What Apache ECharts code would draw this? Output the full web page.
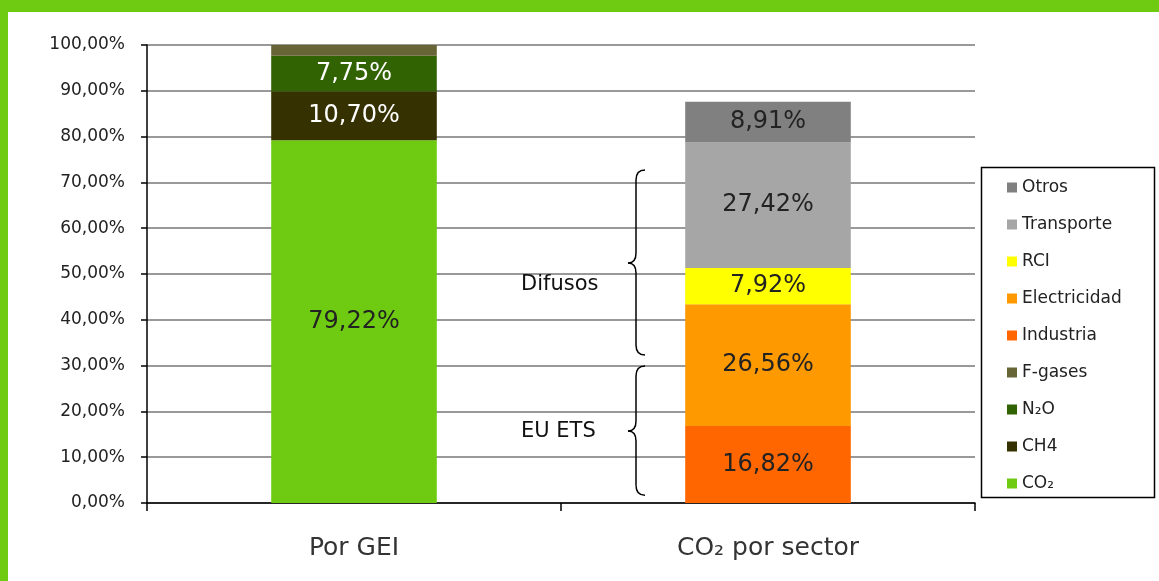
<!DOCTYPE html>
<html>
<head>
<meta charset="utf-8">
<script src="https://cdn.jsdelivr.net/npm/echarts@6/dist/echarts.min.js"></script>
<style>
  html, body { margin: 0; padding: 0; background: #fff; }
  #chart { width: 1159px; height: 581px; }
</style>
</head>
<body>
<div id="chart"></div>
<script>
// categorias del eje x
var categories = ['Por GEI', 'CO₂ por sector'];

// barra 1: por gas (GEI)
var gasNames = ['CO₂', 'CH4', 'N₂O', 'F-gases'];
var gasValues = [79.22, 10.70, 7.75, 2.33];
var gasColors = ['#6ecb12', '#363100', '#316303', '#676536'];
var gasLabelColors = ['#222', '#fff', '#fff', null];

// barra 2: CO2 por sector
var sectorNames = ['Industria', 'Electricidad', 'RCI', 'Transporte', 'Otros'];
var sectorValues = [16.82, 26.56, 7.92, 27.42, 8.91];
var sectorColors = ['#ff6600', '#ff9900', '#ffff00', '#a6a6a6', '#808080'];

var legendOrder = ['Otros', 'Transporte', 'RCI', 'Electricidad', 'Industria', 'F-gases', 'N₂O', 'CH4', 'CO₂'];

// llaves (rango en % del eje y)
var braces = [
    { text: 'Difusos', from: 32.3, to: 72.7, tip: 52.4 },
    { text: 'EU ETS', from: 1.7, to: 29.9, tip: 15.7 }
];

var fontFam = '"DejaVu Sans", sans-serif';

function fmt(v) {
    return v.toFixed(2).replace('.', ',') + '%';
}

var series = [];
for (var i in gasNames) {
    series.push({
        name: gasNames[i],
        type: 'bar',
        stack: 'total',
        barWidth: '40%',
        itemStyle: { color: gasColors[i] },
        label: {
            show: gasLabelColors[i] !== null,
            position: 'inside',
            color: gasLabelColors[i] || '#000',
            fontSize: 24,
            fontFamily: fontFam,
            formatter: function (p) { return fmt(p.value); }
        },
        data: [gasValues[i], '-']
    });
}
for (var j in sectorNames) {
    series.push({
        name: sectorNames[j],
        type: 'bar',
        stack: 'total',
        barWidth: '40%',
        itemStyle: { color: sectorColors[j] },
        label: {
            show: true,
            position: 'inside',
            color: '#222',
            fontSize: 24,
            fontFamily: fontFam,
            formatter: function (p) { return fmt(p.value); }
        },
        data: ['-', sectorValues[j]]
    });
}

var mychart = echarts.init(document.getElementById('chart'));
var option = {
    backgroundColor: '#fff',
    animation: false,
    grid: { left: 147, right: 184, top: 45, bottom: 78 },
    legend: {
        data: legendOrder,
        orient: 'vertical',
        left: 1002,
        top: 174,
        itemWidth: 10,
        itemHeight: 10,
        itemGap: 20,
        icon: 'rect',
        textStyle: { fontSize: 17, lineHeight: 16, color: '#222', fontFamily: fontFam }
    },
    xAxis: {
        type: 'category',
        data: categories,
        axisLine: { lineStyle: { color: '#000', width: 1.5 } },
        axisTick: { show: true, length: 8, lineStyle: { color: '#000', width: 1.5 } },
        axisLabel: { fontSize: 25, color: '#333', margin: 33, fontFamily: fontFam }
    },
    yAxis: {
        type: 'value',
        min: 0,
        max: 100,
        interval: 10,
        axisLine: { show: true, lineStyle: { color: '#000', width: 1.5 } },
        axisTick: { show: true, length: 6, lineStyle: { color: '#000', width: 1.5 } },
        axisLabel: { fontSize: 17, color: '#222', margin: 22, fontFamily: fontFam, formatter: fmt },
        splitLine: { lineStyle: { color: '#999', width: 2 } }
    },
    series: series
};
mychart.setOption(option);

// marco verde, caja de leyenda y llaves
var lineSt = { fill: 'none', stroke: '#000', lineWidth: 1.5 };
function braceParts(x, yTop, yBot, yTip) {
    var w = 9, r = 10;
    var xi = x - w;
    return [
        { type: 'bezierCurve', shape: { x1: x, y1: yTop, cpx1: xi, cpy1: yTop, x2: xi, y2: yTop + r }, style: lineSt },
        { type: 'line', shape: { x1: xi, y1: yTop + r, x2: xi, y2: yTip - r }, style: lineSt },
        { type: 'bezierCurve', shape: { x1: xi, y1: yTip - r, cpx1: xi, cpy1: yTip, x2: xi - 8, y2: yTip }, style: lineSt },
        { type: 'bezierCurve', shape: { x1: xi - 8, y1: yTip, cpx1: xi, cpy1: yTip, x2: xi, y2: yTip + r }, style: lineSt },
        { type: 'line', shape: { x1: xi, y1: yTip + r, x2: xi, y2: yBot - r }, style: lineSt },
        { type: 'bezierCurve', shape: { x1: xi, y1: yBot - r, cpx1: xi, cpy1: yBot, x2: x, y2: yBot }, style: lineSt }
    ];
}

var gfx = [
    { type: 'rect', shape: { x: 0, y: 0, width: 1159, height: 12 }, style: { fill: '#6ecb12' } },
    { type: 'rect', shape: { x: 0, y: 0, width: 8, height: 581 }, style: { fill: '#6ecb12' } },
    { type: 'rect', shape: { x: 981.5, y: 167.5, width: 173, height: 330 }, style: { fill: 'none', stroke: '#000', lineWidth: 1.5 } }
];
var bx = mychart.convertToPixel({ xAxisIndex: 0 }, categories[1]) - 123;
for (var k = 0; k < braces.length; k++) {
    var b = braces[k];
    var yT = mychart.convertToPixel({ yAxisIndex: 0 }, b.to);
    var yB = mychart.convertToPixel({ yAxisIndex: 0 }, b.from);
    var yP = mychart.convertToPixel({ yAxisIndex: 0 }, b.tip);
    gfx = gfx.concat(braceParts(bx, yT, yB, yP));
    gfx.push({
        type: 'text', x: 521, y: (k === 0 ? yP + 22 : yP),
        style: { text: b.text, fontSize: 21, fill: '#111', fontFamily: fontFam, verticalAlign: 'middle' }
    });
}
mychart.setOption({ graphic: gfx });
</script>
</body>
</html>
